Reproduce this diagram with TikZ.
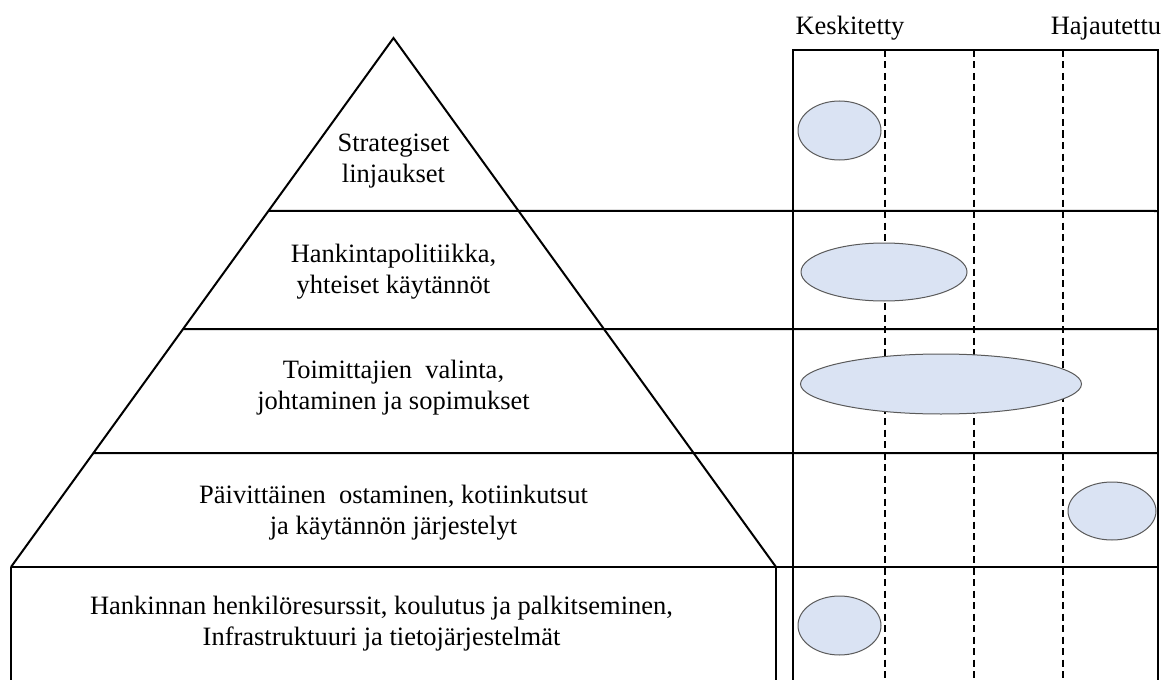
\documentclass[tikz,border=0pt]{standalone}
\usepackage{fontspec}
\setmainfont{Liberation Serif}
\usetikzlibrary{shapes.geometric,calc}
\definecolor{ellfill}{HTML}{DAE3F3}
\definecolor{ellline}{HTML}{5A5A5A}
\tikzset{
  lbl/.style={align=center, inner sep=0pt, font=\fontsize{26.5bp}{31bp}\selectfont},
  hdr/.style={inner sep=0pt, anchor=base, font=\fontsize{26.5bp}{31bp}\selectfont},
  frame/.style={line width=2bp, black},
  grid/.style={line width=1.8bp, black, dash pattern=on 7bp off 4.5bp},
  blob/.style={ellipse, draw=ellline, line width=1bp, fill=ellfill, inner sep=0pt}
}
\begin{document}
\begin{tikzpicture}[x=1bp,y=-1bp]
\useasboundingbox (0,0) rectangle (1176,680);
% key points
\coordinate (apex) at (393.5,38);
\coordinate (bl) at (11,567);
\coordinate (br) at (776,567);
\coordinate (bl2) at (11,680);
\coordinate (br2) at (776,680);
\coordinate (l1) at ($(apex)!0.3270!(bl)$);
\coordinate (l2) at ($(apex)!0.5501!(bl)$);
\coordinate (l3) at ($(apex)!0.7845!(bl)$);
\coordinate (r1) at (1158,211);
\coordinate (r2) at (1158,329);
\coordinate (r3) at (1158,453);
\coordinate (r4) at (1158,567);
\coordinate (bxtl) at (793,50);
\coordinate (bxtr) at (1158,50);
\coordinate (bxbl) at (793,680);
\coordinate (bxbr) at (1158,680);
\coordinate (d1t) at (885,50);  \coordinate (d1b) at (885,680);
\coordinate (d2t) at (974,50);  \coordinate (d2b) at (974,680);
\coordinate (d3t) at (1063,50); \coordinate (d3b) at (1063,680);
% dashed columns
\draw[grid] (d1t) -- (d1b);
\draw[grid] (d2t) -- (d2b);
\draw[grid] (d3t) -- (d3b);
% pyramid and frame
\draw[frame] (bl) -- (apex) -- (br);
\draw[frame] (bl) -- (bl2);
\draw[frame] (br) -- (br2);
\draw[frame] (bxbl) -- (bxtl) -- (bxtr) -- (bxbr);
\draw[frame] (l1) -- (r1);
\draw[frame] (l2) -- (r2);
\draw[frame] (l3) -- (r3);
\draw[frame] (bl) -- (r4);
% ellipses
\node[blob, minimum width=83bp, minimum height=59bp] (e1) at (839.5,130.5) {};
\node[blob, minimum width=166bp, minimum height=58bp] (e2) at (884,272) {};
\node[blob, minimum width=281bp, minimum height=60bp] (e3) at (941,384) {};
\node[blob, minimum width=88bp, minimum height=58bp] (e4) at (1112,511) {};
\node[blob, minimum width=83bp, minimum height=59bp] (e5) at (839.5,625.5) {};
% headers
\node[hdr] (h1) at (850,35) {Keskitetty};
\node[hdr] (h2) at (1106,35) {Hajautettu};
% level labels
\node[lbl] (t1) at (393.5,161) {Strategiset\\linjaukset};
\node[lbl] (t2) at (393.5,272) {Hankintapolitiikka,\\yhteiset käytännöt};
\node[lbl] (t3) at (393.5,388) {Toimittajien\ \ valinta,\\johtaminen ja sopimukset};
\node[lbl] (t4) at (393.5,513) {Päivittäinen\ \ ostaminen, kotiinkutsut\\ja käytännön järjestelyt};
\node[lbl] (t5) at (381.5,624) {Hankinnan henkilöresurssit, koulutus ja palkitseminen,\\Infrastruktuuri ja tietojärjestelmät};
\end{tikzpicture}
\end{document}
